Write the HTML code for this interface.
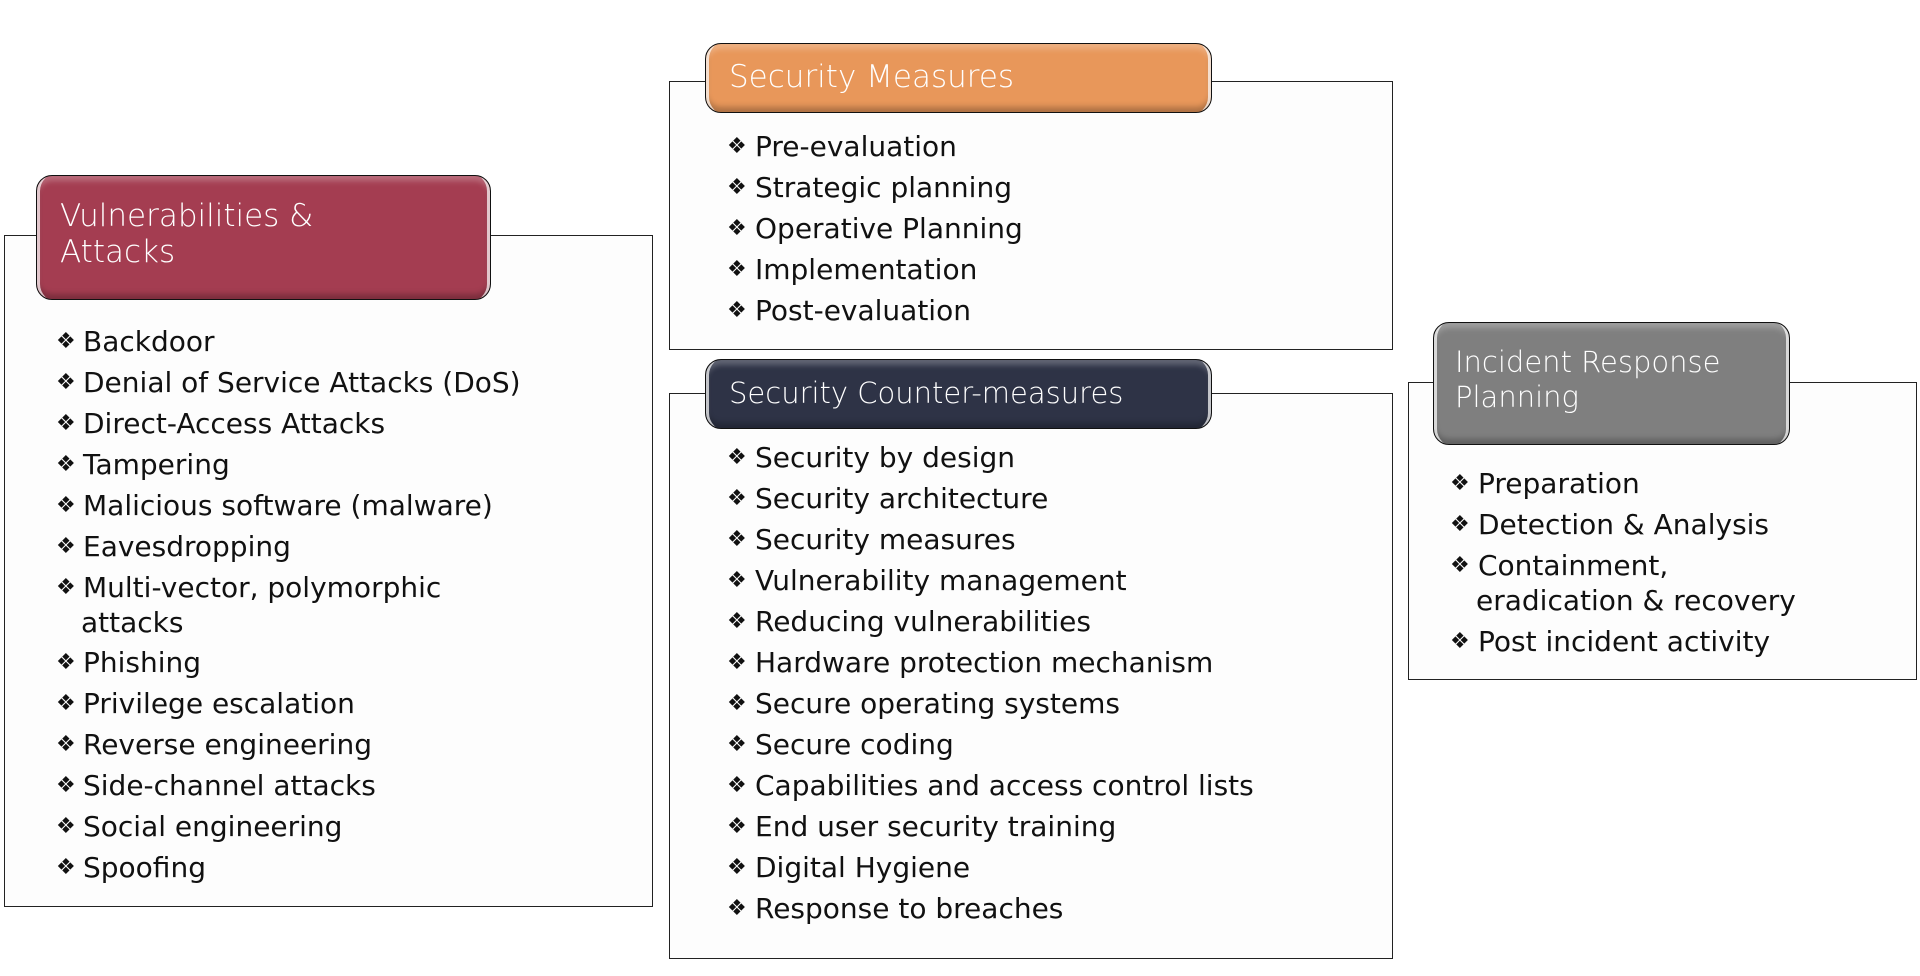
<!DOCTYPE html>
<html><head><meta charset="utf-8"><style>
body{margin:0;width:1920px;height:976px;background:#fff;position:relative;overflow:hidden;font-family:"DejaVu Sans","Liberation Sans",sans-serif;}
.box{position:absolute;border:1.5px solid #222;background:#fdfdfd;box-sizing:border-box;}
.hd{position:absolute;border:1.5px solid #111;border-radius:16px;box-sizing:border-box;color:#fff;font-size:31px;font-weight:300;line-height:36px;
box-shadow:inset 6px 0 0 -3px rgba(255,255,255,.7),inset -6px 0 0 -3px rgba(255,255,255,.7),inset 0 -5px 6px rgba(0,0,0,.25),inset 0 5px 6px rgba(255,255,255,.25);}
.t{position:absolute;font-size:28px;color:#111;white-space:nowrap;line-height:34px;}
.b{position:absolute;font-size:22px;color:#111;line-height:34px;}
</style></head><body>

<div class="box" style="left:4px;top:235px;width:649px;height:672px"></div>
<div class="hd" style="left:36px;top:175px;width:455px;height:125px;background:#A43D51"><div style="position:absolute;left:23px;top:22px">Vulnerabilities &amp;<br>Attacks</div></div>

<div class="box" style="left:669px;top:81px;width:724px;height:269px"></div>
<div class="hd" style="left:705px;top:43px;width:507px;height:70px;background:#E8975A"><div style="position:absolute;left:23px;top:15px">Security Measures</div></div>

<div class="box" style="left:669px;top:393px;width:724px;height:566px"></div>
<div class="hd" style="left:705px;top:359px;width:507px;height:70px;background:#2E3346"><div style="position:absolute;left:23px;top:15px;font-size:29px">Security Counter-measures</div></div>

<div class="box" style="left:1408px;top:382px;width:509px;height:298px"></div>
<div class="hd" style="left:1433px;top:322px;width:357px;height:123px;background:#7F7F7F"><div style="position:absolute;left:21px;top:22px;font-size:29px;line-height:35px">Incident Response<br>Planning</div></div>

<!-- Vuln items -->
<div class="b" style="left:56px;top:325px">❖</div><div class="t" style="left:83px;top:325px">Backdoor</div>
<div class="b" style="left:56px;top:366px">❖</div><div class="t" style="left:83px;top:366px">Denial of Service Attacks (DoS)</div>
<div class="b" style="left:56px;top:407px">❖</div><div class="t" style="left:83px;top:407px">Direct-Access Attacks</div>
<div class="b" style="left:56px;top:448px">❖</div><div class="t" style="left:83px;top:448px">Tampering</div>
<div class="b" style="left:56px;top:489px">❖</div><div class="t" style="left:83px;top:489px">Malicious software (malware)</div>
<div class="b" style="left:56px;top:530px">❖</div><div class="t" style="left:83px;top:530px">Eavesdropping</div>
<div class="b" style="left:56px;top:571px">❖</div><div class="t" style="left:83px;top:571px">Multi-vector, polymorphic</div>
<div class="t" style="left:81px;top:606px">attacks</div>
<div class="b" style="left:56px;top:646px">❖</div><div class="t" style="left:83px;top:646px">Phishing</div>
<div class="b" style="left:56px;top:687px">❖</div><div class="t" style="left:83px;top:687px">Privilege escalation</div>
<div class="b" style="left:56px;top:728px">❖</div><div class="t" style="left:83px;top:728px">Reverse engineering</div>
<div class="b" style="left:56px;top:769px">❖</div><div class="t" style="left:83px;top:769px">Side-channel attacks</div>
<div class="b" style="left:56px;top:810px">❖</div><div class="t" style="left:83px;top:810px">Social engineering</div>
<div class="b" style="left:56px;top:851px">❖</div><div class="t" style="left:83px;top:851px">Spoofing</div>

<!-- Measures -->
<div class="b" style="left:727px;top:130px">❖</div><div class="t" style="left:755px;top:130px">Pre-evaluation</div>
<div class="b" style="left:727px;top:171px">❖</div><div class="t" style="left:755px;top:171px">Strategic planning</div>
<div class="b" style="left:727px;top:212px">❖</div><div class="t" style="left:755px;top:212px">Operative Planning</div>
<div class="b" style="left:727px;top:253px">❖</div><div class="t" style="left:755px;top:253px">Implementation</div>
<div class="b" style="left:727px;top:294px">❖</div><div class="t" style="left:755px;top:294px">Post-evaluation</div>

<!-- Counter -->
<div class="b" style="left:727px;top:441px">❖</div><div class="t" style="left:755px;top:441px">Security by design</div>
<div class="b" style="left:727px;top:482px">❖</div><div class="t" style="left:755px;top:482px">Security architecture</div>
<div class="b" style="left:727px;top:523px">❖</div><div class="t" style="left:755px;top:523px">Security measures</div>
<div class="b" style="left:727px;top:564px">❖</div><div class="t" style="left:755px;top:564px">Vulnerability management</div>
<div class="b" style="left:727px;top:605px">❖</div><div class="t" style="left:755px;top:605px">Reducing vulnerabilities</div>
<div class="b" style="left:727px;top:646px">❖</div><div class="t" style="left:755px;top:646px">Hardware protection mechanism</div>
<div class="b" style="left:727px;top:687px">❖</div><div class="t" style="left:755px;top:687px">Secure operating systems</div>
<div class="b" style="left:727px;top:728px">❖</div><div class="t" style="left:755px;top:728px">Secure coding</div>
<div class="b" style="left:727px;top:769px">❖</div><div class="t" style="left:755px;top:769px">Capabilities and access control lists</div>
<div class="b" style="left:727px;top:810px">❖</div><div class="t" style="left:755px;top:810px">End user security training</div>
<div class="b" style="left:727px;top:851px">❖</div><div class="t" style="left:755px;top:851px">Digital Hygiene</div>
<div class="b" style="left:727px;top:892px">❖</div><div class="t" style="left:755px;top:892px">Response to breaches</div>

<!-- IRP -->
<div class="b" style="left:1450px;top:467px">❖</div><div class="t" style="left:1478px;top:467px">Preparation</div>
<div class="b" style="left:1450px;top:508px">❖</div><div class="t" style="left:1478px;top:508px">Detection &amp; Analysis</div>
<div class="b" style="left:1450px;top:549px">❖</div><div class="t" style="left:1478px;top:549px">Containment,</div>
<div class="t" style="left:1476px;top:584px">eradication &amp; recovery</div>
<div class="b" style="left:1450px;top:625px">❖</div><div class="t" style="left:1478px;top:625px">Post incident activity</div>
</body></html>
